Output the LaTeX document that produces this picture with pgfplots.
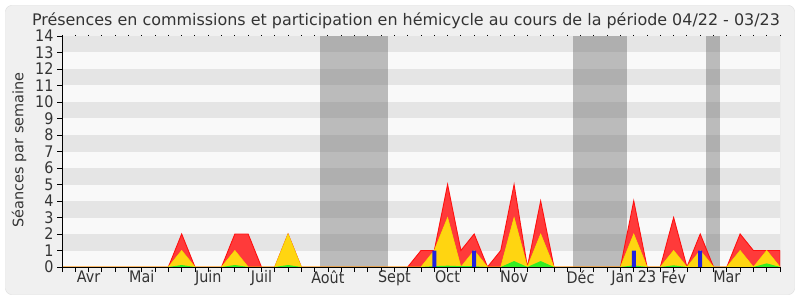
\documentclass[border=0pt]{standalone}
\usepackage{fontspec}
\setmainfont{DejaVu Sans}
\newfontfamily\condfont{DejaVu Sans Condensed}
\usepackage{pgfplots}
\pgfplotsset{compat=1.18}
\definecolor{bgc}{HTML}{F0F0F0}
\definecolor{framec}{HTML}{DCDCDC}
\definecolor{stripe}{HTML}{E5E5E5}
\definecolor{plotbg}{HTML}{F9F9F9}
\definecolor{redfill}{HTML}{FF3A3A}
\definecolor{redline}{HTML}{FF1010}
\definecolor{yelfill}{HTML}{FFD511}
\definecolor{yelline}{HTML}{F5E000}
\definecolor{grnfill}{HTML}{33EE22}
\definecolor{bluebar}{HTML}{2222DD}
\definecolor{band}{HTML}{606060}
\definecolor{txt}{HTML}{333333}
\begin{document}
\begin{tikzpicture}[x=1bp,y=1bp]
\fill[white] (0,0) rectangle (800,300);
\filldraw[fill=bgc,draw=framec,rounded corners=6bp] (5.5,5.5) rectangle (794.5,294.5);
\node[txt,font=\fontsize{16}{19}\selectfont] at (406,279) {Présences en commissions et participation en hémicycle au cours de la période 04/22 - 03/23};
\node[txt,rotate=90,font=\fontsize{14.5}{17}\selectfont] at (19,150) {Séances par semaine};
\begin{axis}[at={(62bp,33bp)},anchor=south west,width=718bp,height=231bp,scale only axis,
  xmin=0,xmax=54,ymin=0,ymax=14,
  axis background/.style={fill=plotbg},
  axis on top,
  axis lines*=left, axis line style={black,line width=1bp},
  xtick={0,...,54}, xticklabels={},
  extra x ticks={2,6,11,15,20,25,29,34,39,43,46,50},
  extra x tick labels={Avr,Mai,Juin,Juil,Août,Sept,Oct,Nov,Déc,Jan 23,Fév,Mar},
  extra x tick style={major tick length=0pt},
  ytick={0,...,14},
  tick align=outside, major tick length=5bp,
  tick style={black,line width=0.8bp},
  ticklabel style={txt,font=\condfont\fontsize{16}{18}\selectfont},
  /pgf/number format/assume math mode=true,
]
\fill[stripe] (axis cs:0,1) rectangle (axis cs:54,2);
\fill[stripe] (axis cs:0,3) rectangle (axis cs:54,4);
\fill[stripe] (axis cs:0,5) rectangle (axis cs:54,6);
\fill[stripe] (axis cs:0,7) rectangle (axis cs:54,8);
\fill[stripe] (axis cs:0,9) rectangle (axis cs:54,10);
\fill[stripe] (axis cs:0,11) rectangle (axis cs:54,12);
\fill[stripe] (axis cs:0,13) rectangle (axis cs:54,14);
\fill[band,opacity=0.4] (axis cs:19.4,0) rectangle (axis cs:24.5,14);
\fill[band,opacity=0.4] (axis cs:38.4,0) rectangle (axis cs:42.5,14);
\fill[band,opacity=0.4] (axis cs:48.4,0) rectangle (axis cs:49.5,14);
\draw[black!20] (rel axis cs:1,0) -- (rel axis cs:1,1);
\addplot[fill=redfill,draw=redline,line width=0.9bp] coordinates {
(0,0)(1,0)(2,0)(3,0)(4,0)(5,0)(6,0)(7,0)(8,0)(9,2)(10,0)(11,0)(12,0)(13,2)(14,2)(15,0)(16,0)(17,2)(18,0)
(19,0)(20,0)(21,0)(22,0)(23,0)(24,0)(25,0)(26,0)(27,1)(28,1)(29,5)(30,1)(31,2)(32,0)(33,1)(34,5)(35,0)(36,4)(37,0)
(38,0)(39,0)(40,0)(41,0)(42,0)(43,4)(44,0)(45,0)(46,3)(47,0)(48,2)(49,0)(50,0)(51,2)(52,1)(53,1)(54,1)} \closedcycle;
\addplot[fill=yelfill,draw=yelline,line width=0.6bp] coordinates {
(0,0)(8,0)(9,1)(10,0)(12,0)(13,1)(14,0)(16,0)(17,2)(18,0)(27,0)(28,1)(29,3)(30,0)(31,1)(32,0)(33,0)(34,3)(35,0)(36,2)(37,0)
(42,0)(43,2)(44,0)(45,0)(46,1)(47,0)(48,1)(49,0)(50,0)(51,1)(52,0)(53,1)(54,0)} \closedcycle;
\addplot[fill=grnfill,draw=none] coordinates {
(0,0)(8,0)(9,0.12)(10,0)(12,0)(13,0.12)(14,0)(16,0)(17,0.12)(18,0)(27,0)(28,0.05)(29,0.08)(30,0.05)(31,0.05)(32,0)(33,0)(34,0.36)(35,0)(36,0.36)(37,0)
(42,0)(43,0.1)(44,0)(45,0)(46,0.1)(47,0)(52,0)(53,0.22)(54,0)} \closedcycle;
\addplot[ybar,bar width=4bp,fill=bluebar,draw=none] coordinates {(28,1)(31,1)(43,1)(48,1)};
\end{axis}
\begin{axis}[at={(62bp,33bp)},anchor=south west,width=718bp,height=231bp,scale only axis,
  xmin=0,xmax=54,ymin=0,ymax=14,
  axis x line*=top, hide y axis, axis line style={draw=none},
  xtick={0,...,54}, xticklabels={}, tick align=outside,
  major tick length=1.2bp, tick style={black,line width=1bp}]
\end{axis}
\end{tikzpicture}
\end{document}
